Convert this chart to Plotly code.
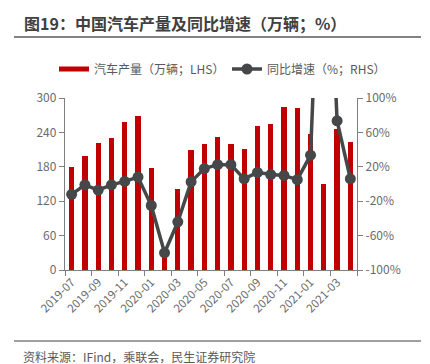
import plotly.graph_objects as go

months = ["2019-07","2019-08","2019-09","2019-10","2019-11","2019-12",
          "2020-01","2020-02","2020-03","2020-04","2020-05","2020-06",
          "2020-07","2020-08","2020-09","2020-10","2020-11","2020-12",
          "2021-01","2021-02","2021-03","2021-04"]
production = [180, 199, 221, 230, 259, 269, 178, 28, 142, 210, 219, 232,
              220, 211, 252, 255, 284, 283, 238, 150, 246, 223]
yoy = [-12, -1, -7, -1, 3, 8, -25, -80, -44, 2.5, 18, 22.5,
       22.5, 6, 13.5, 11, 10, 5, 33.5, 420, 73.5, 6]
y2_ticks = [-100, -60, -20, 20, 60, 100]
y2_labels = ["-100%", "-60%", "-20%", "20%", "60%", "100%"]

x = list(range(len(months)))
tick_idx = list(range(0, len(months), 2))
tick_text = [months[i] for i in tick_idx]

FONT = "Noto Sans CJK SC"
GRAY = "#595959"
TICKC = "#6b6b6b"
AX = "#7f7f7f"
RED = "#C00000"
LINE = "#454749"

# page offset (body margin) of the figure
OFF = 8
W, H = 430 - OFF, 364 - OFF
L, R, T, B = 65 - OFF, 73, 98 - OFF, 94
PW = W - L - R
PH = H - T - B

def px(xp):  # page pixel -> paper x
    return (xp - OFF - L) / PW

def py(yp):  # page pixel -> paper y
    return (H - B - (yp - OFF)) / PH

fig = go.Figure()
fig.add_trace(go.Bar(x=x, y=production, name="汽车产量（万辆；LHS）",
                     marker=dict(color=RED, line=dict(width=0)),
                     width=0.4, yaxis="y", showlegend=False))
fig.add_trace(go.Scatter(x=[None], y=[None], name="汽车产量（万辆；LHS）",
                         mode="lines", line=dict(color=RED, width=5), yaxis="y",
                         showlegend=True, legend="legend"))
fig.add_trace(go.Scatter(x=x, y=yoy, name="同比增速（%；RHS）", yaxis="y2",
                         mode="lines+markers",
                         line=dict(color=LINE, width=3.5),
                         marker=dict(color=LINE, size=11),
                         legend="legend2"))

legend_common = dict(orientation="h", xref="container", yref="container",
                     xanchor="left", y=1 - (69 - OFF) / H, yanchor="middle",
                     font=dict(size=12, color=GRAY), bgcolor="rgba(0,0,0,0)")

fig.update_layout(
    width=W, height=H,
    margin=dict(l=L, r=R, t=T, b=B, autoexpand=False),
    paper_bgcolor="white", plot_bgcolor="white",
    font=dict(family=FONT, size=11, color=GRAY),
    showlegend=True,
    legend=dict(x=(54 - OFF) / W, **legend_common),
    legend2=dict(x=(227 - OFF) / W, **legend_common),
    bargap=0,
    xaxis=dict(range=[-0.5, len(months) - 0.5], tickmode="array",
               tickvals=tick_idx, ticktext=tick_text, tickangle=-45,
               ticks="", showgrid=False, zeroline=False,
               showline=True, linecolor=AX, linewidth=1.3,
               tickfont=dict(size=11.5, color=TICKC), automargin=False,
               minor=dict(tickmode="array",
                          tickvals=[i - 0.5 for i in range(0, len(months) + 1, 2)],
                          ticks="outside", ticklen=5, tickcolor=AX, tickwidth=1.3,
                          showgrid=False)),
    yaxis=dict(range=[0, 300], tickvals=[0, 60, 120, 180, 240, 300],
               showgrid=False, zeroline=False, showline=True, linecolor=AX,
               linewidth=1.3, ticks="outside", ticklen=5, tickcolor=AX,
               tickfont=dict(size=12, color=TICKC), automargin=False),
    yaxis2=dict(range=[-100, 100], tickmode="array", tickvals=y2_ticks, ticktext=y2_labels,
                overlaying="y", side="right",
                showgrid=False, zeroline=False, showline=True, linecolor=AX,
                linewidth=1.3, ticks="outside", ticklen=5, tickcolor=AX,
                tickfont=dict(size=12, color=TICKC), automargin=False),
)

fig.add_annotation(text="<b>图19：中国汽车产量及同比增速（万辆；%）</b>",
                   xref="paper", yref="paper", x=px(22), y=py(23),
                   xanchor="left", yanchor="middle", showarrow=False,
                   font=dict(family=FONT, size=16, color="#404040"))
fig.add_annotation(text="资料来源：IFind，乘联会，民生证券研究院",
                   xref="paper", yref="paper", x=px(21), y=py(356),
                   xanchor="left", yanchor="middle", showarrow=False,
                   font=dict(family=FONT, size=12, color=GRAY))
fig.add_shape(type="line", xref="paper", yref="paper",
              x0=px(14), x1=px(421), y0=py(37), y1=py(37),
              line=dict(color="#595959", width=1.5))
fig.add_shape(type="line", xref="paper", yref="paper",
              x0=px(14), x1=px(421), y0=py(341), y1=py(341),
              line=dict(color="#7f7f7f", width=1.5))

fig.write_html("out.html")
